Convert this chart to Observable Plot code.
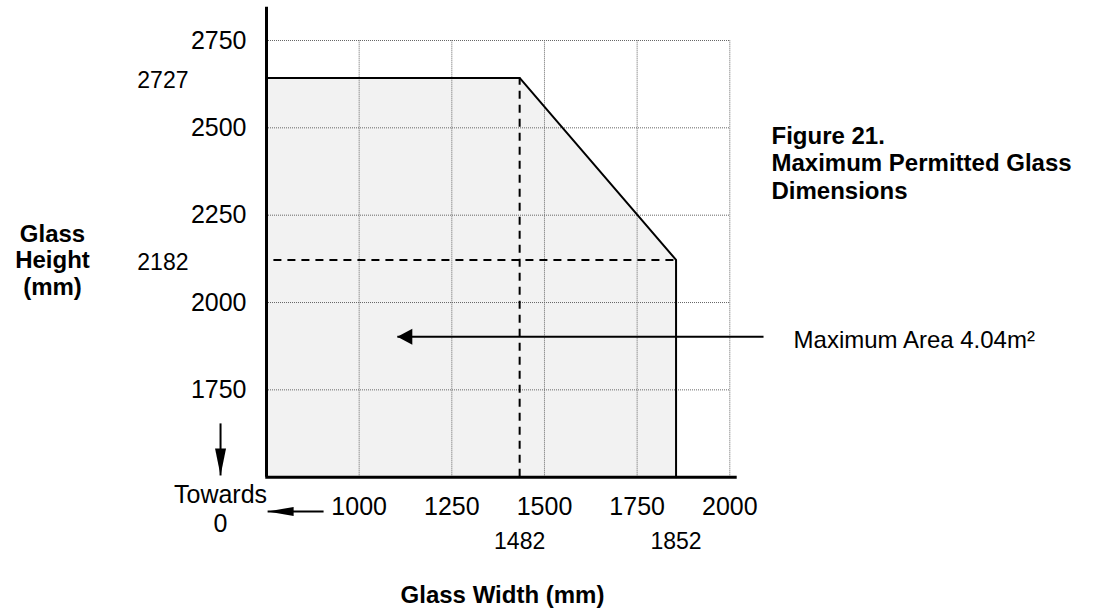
<!DOCTYPE html>
<html><head><meta charset="utf-8">
<script src="https://cdn.jsdelivr.net/npm/d3@7"></script>
<script src="https://cdn.jsdelivr.net/npm/@observablehq/plot@0.6"></script>
<style>body{margin:0;background:#fff}</style>
</head><body><div id="chart"></div>
<script>
// ticks
const xTicks = [1000, 1250, 1500, 1750, 2000];
const yTicks = [1750, 2000, 2250, 2500, 2750];
// boundary of the permitted region (as drawn)
const boundaryX = [750, 1433, 1855, 1855];
const boundaryY = [2643, 2643, 2122, 1500];
// callout values shown next to the axes
const calloutX = [1433, 1855];
const calloutXLabels = ["1482", "1852"];
const calloutY = [2643, 2122];
const calloutYLabels = ["2727", "2182"];
// annotation arrows (data space): x1,y1 -> x2,y2 (tip)
const arrowX1 = [2091, 626, 904];
const arrowY1 = [1902, 1654, 1402];
const arrowX2 = [1103, 626, 753];
const arrowY2 = [1902, 1505, 1402];
const arrowHead = ["left", "down", "leftLong"];

const points = boundaryX.map((x, i) => ({x, y: boundaryY[i]}));
const arrows = arrowX1.map((x1, i) => ({x1, y1: arrowY1[i], x2: arrowX2[i], y2: arrowY2[i], head: arrowHead[i]}));

const heads = {
  left: {draw(c) { c.moveTo(0, 0); c.lineTo(15, -8); c.lineTo(15, 8); c.closePath(); }},
  down: {draw(c) { c.moveTo(0, 0); c.lineTo(-5.5, -27); c.lineTo(5.5, -27); c.closePath(); }},
  leftLong: {draw(c) { c.moveTo(0, 0); c.lineTo(26, -4.5); c.lineTo(26, 4.5); c.closePath(); }}
};

const font = "Liberation Sans, Arial, Helvetica, sans-serif";

const chart = Plot.plot({
  width: 1110,
  height: 614,
  marginLeft: 266,
  marginRight: 380.7,
  marginTop: 40,
  marginBottom: 137.3,
  x: {domain: [750, 2000], axis: null},
  y: {domain: [1500, 2750], axis: null},
  style: {fontFamily: font, background: "#fff", color: "#000", overflow: "visible"},
  marks: [
    Plot.areaY(points.slice(0, 3), {x: "x", y1: 1500, y2: "y", fill: "#f2f2f2"}),
    Plot.ruleX(xTicks, {y1: 1500, y2: 2750, stroke: "#666", strokeWidth: 1, strokeDasharray: "1,1"}),
    Plot.ruleY(yTicks, {x1: 750, x2: 2000, stroke: "#666", strokeWidth: 1, strokeDasharray: "1,1"}),
    // dashed reference lines
    Plot.ruleX([calloutX[0]], {y1: 1500, y2: calloutY[0], stroke: "#000", strokeWidth: 2, strokeDasharray: "8,6"}),
    Plot.ruleY([calloutY[1]], {x1: 770, x2: calloutX[1], stroke: "#000", strokeWidth: 2, strokeDasharray: "8,6"}),
    Plot.line(points, {x: "x", y: "y", stroke: "#000", strokeWidth: 2}),
    // axis lines
    Plot.ruleX([750], {y1: 1500, y2: 2845, stroke: "#000", strokeWidth: 3}),
    Plot.ruleY([1500], {x1: 748, x2: 2020, stroke: "#000", strokeWidth: 3}),
    Plot.axisY({ticks: yTicks, tickSize: 0, tickPadding: 20, fontSize: 25, tickFormat: d => String(d)}),
    Plot.axisX({ticks: xTicks, tickSize: 0, tickPadding: 20, fontSize: 25, tickFormat: d => String(d)}),
    // arrows
    Plot.link(arrows, {x1: "x1", y1: "y1", x2: "x2", y2: "y2", stroke: "#000", strokeWidth: 2}),
    ...arrowHead.map((h, i) => Plot.dot([arrows[i]], {x: "x2", y: "y2", symbol: heads[h], r: 5, fill: "#000", stroke: "none"})),
    // callout labels
    Plot.text(calloutXLabels, {x: (d, i) => calloutX[i], y: 1500, dy: 64, fontSize: 23}),
    Plot.text(calloutYLabels, {x: 750, y: (d, i) => calloutY[i], textAnchor: "end", dx: -78, dy: 2.5, fontSize: 23}),
    Plot.text(["Towards\n0"], {x: 626, y: 1500, dy: 31, lineHeight: 1.16, fontSize: 25}),
    // titles
    Plot.text(["Glass\nHeight\n(mm)"], {x: 172.6, y: 2122, fontSize: 24, fontWeight: "bold", lineHeight: 1.1}),
    Plot.text(["Glass Width (mm)"], {x: 1386.7, y: 1161, fontSize: 24, fontWeight: "bold"}),
    Plot.text(["Figure 21.\nMaximum Permitted Glass\nDimensions"], {x: 2112.5, y: 2401, textAnchor: "start", fontSize: 24, fontWeight: "bold", lineHeight: 1.15}),
    Plot.text(["Maximum Area 4.04m²"], {x: 2172, y: 1891, textAnchor: "start", fontSize: 24})
  ]
});
document.getElementById("chart").appendChild(chart);
</script>
</body></html>
